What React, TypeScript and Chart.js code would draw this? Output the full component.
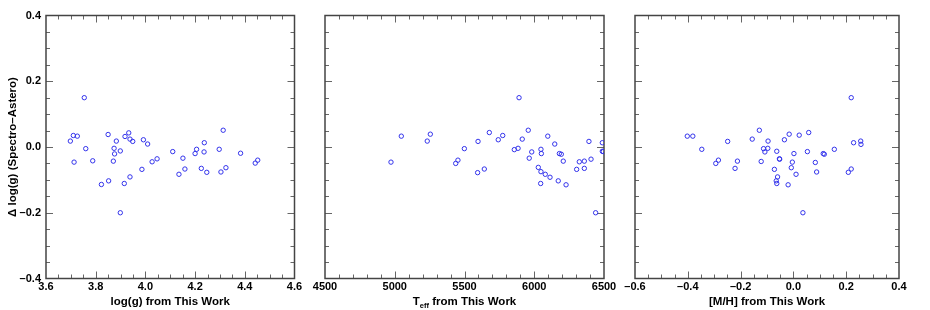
import React, { useEffect, useRef } from 'react';
import { Chart, registerables } from 'chart.js';
Chart.register(...registerables);

// ---------------- data ----------------
const loggX = [3.754, 3.710, 3.726, 3.698, 3.760, 3.713, 3.788, 3.823, 3.852, 3.850, 3.883, 3.874, 3.876, 3.871, 3.899, 3.899, 3.933, 3.918, 3.938, 3.949, 3.938, 3.915, 3.992, 4.009, 3.986, 4.027, 4.047, 4.110, 4.151, 4.135, 4.159, 4.206, 4.200, 4.237, 4.236, 4.225, 4.247, 4.313, 4.297, 4.304, 4.324, 4.383, 4.442, 4.452];
const loggDy = [0.15, 0.035, 0.033, 0.018, -0.005, -0.046, -0.042, -0.114, -0.103, 0.038, 0.018, -0.004, -0.021, -0.043, -0.012, -0.2, 0.043, 0.032, 0.024, 0.017, -0.091, -0.111, 0.022, 0.009, -0.068, -0.045, -0.036, -0.014, -0.034, -0.083, -0.067, -0.007, -0.020, 0.013, -0.015, -0.065, -0.077, 0.051, -0.007, -0.076, -0.063, -0.019, -0.049, -0.040];

const teffX = [4973, 5047, 5233, 5255, 5437, 5453, 5499, 5594, 5597, 5642, 5678, 5742, 5774, 5857, 5884, 5891, 5914, 5957, 5964, 5982, 6029, 6048, 6051, 6048, 6046, 6079, 6097, 6113, 6147, 6180, 6194, 6172, 6208, 6228, 6304, 6323, 6359, 6359, 6392, 6407, 6488, 6488, 6495, 6440];
const teffDy = [-0.046, 0.033, 0.018, 0.039, -0.050, -0.040, -0.005, -0.078, 0.017, -0.067, 0.044, 0.022, 0.035, -0.008, -0.004, 0.15, 0.024, 0.051, -0.034, -0.015, -0.062, -0.007, -0.020, -0.075, -0.111, -0.083, 0.033, -0.092, 0.009, -0.020, -0.022, -0.103, -0.043, -0.115, -0.068, -0.045, -0.043, -0.065, 0.017, -0.037, 0.013, -0.013, -0.014, -0.2];

const mhX = [-0.402, -0.381, -0.347, -0.294, -0.284, -0.249, -0.221, -0.212, -0.156, -0.129, -0.122, -0.113, -0.108, -0.097, -0.096, -0.072, -0.063, -0.060, -0.065, -0.063, -0.053, -0.052, -0.034, -0.016, -0.008, -0.004, 0.002, 0.010, -0.020, 0.022, 0.036, 0.053, 0.058, 0.083, 0.088, 0.113, 0.117, 0.155, 0.208, 0.219, 0.219, 0.228, 0.255, 0.256];
const mhDy = [0.033, 0.033, -0.007, -0.050, -0.040, 0.017, -0.065, -0.043, 0.024, 0.051, -0.044, -0.005, -0.015, -0.004, 0.018, -0.068, -0.013, -0.091, -0.103, -0.111, -0.036, -0.037, 0.022, 0.039, -0.063, -0.046, -0.020, -0.083, -0.115, 0.036, -0.2, -0.014, 0.044, -0.047, -0.076, -0.020, -0.022, -0.007, -0.077, -0.067, 0.15, 0.013, 0.018, 0.008];

const dyTicks = [-0.4, -0.2, 0.0, 0.2, 0.4];
const loggTicks = [3.6, 3.8, 4.0, 4.2, 4.4, 4.6];
const teffTicks = [4500, 5000, 5500, 6000, 6500];
const mhTicks = [-0.6, -0.4, -0.2, 0.0, 0.2, 0.4];

const yTitle = 'Δ log(g) (Spectro–Astero)';
const loggTitle = 'log(g) from This Work';
const mhTitle = '[M/H] from This Work';

// ---------------- layout / style ----------------
const W = 930;
const H = 310;
const TOP = 15.5;
const BOTTOM = 278.5;
const FONT = '"Liberation Sans", Arial, Helvetica, sans-serif';
const POINT_COLOR = 'rgb(50,50,235)';
const MAJOR_LEN = 7;
const MINOR_LEN = 4;

const fmt = (v: number, d: number) => {
  const r = Number(v.toFixed(d));
  const s = Math.abs(r).toFixed(d);
  return r < 0 ? '–' + s : s;
};

type Panel = {
  xs: number[];
  ys: number[];
  ticks: number[];
  decimals: number;
  minor: number;
  majorEvery: number;
  left: number;
  right: number;
  title: string | null;
  showY: boolean;
};

const panels: Panel[] = [
  { xs: loggX, ys: loggDy, ticks: loggTicks, decimals: 1, minor: 0.05, majorEvery: 4, left: 46, right: 294.5, title: loggTitle, showY: true },
  { xs: teffX, ys: teffDy, ticks: teffTicks, decimals: 0, minor: 100, majorEvery: 5, left: 325, right: 604, title: null, showY: false },
  { xs: mhX, ys: mhDy, ticks: mhTicks, decimals: 1, minor: 0.05, majorEvery: 4, left: 635, right: 899, title: mhTitle, showY: false },
];

function makeChart(canvas: HTMLCanvasElement, p: Panel) {
  const framePlugin = {
    id: 'frame',
    beforeDatasetsDraw(chart: any) {
      const { ctx, chartArea } = chart;
      const { left, right, top, bottom } = chartArea;
      const xs = chart.scales.x;
      const ys = chart.scales.y;
      ctx.save();
      ctx.strokeStyle = '#666';
      ctx.lineWidth = 1;
      ctx.beginPath();
      const xmin = p.ticks[0];
      const xmax = p.ticks[p.ticks.length - 1];
      const nx = Math.round((xmax - xmin) / p.minor);
      for (let i = 1; i < nx; i++) {
        const v = xmin + i * p.minor;
        const px = Math.round(xs.getPixelForValue(v)) + 0.5;
        const len = i % p.majorEvery === 0 ? MAJOR_LEN : MINOR_LEN;
        ctx.moveTo(px, bottom);
        ctx.lineTo(px, bottom - len);
        ctx.moveTo(px, top);
        ctx.lineTo(px, top + len);
      }
      const ymin = dyTicks[0];
      const ymax = dyTicks[dyTicks.length - 1];
      const ny = Math.round((ymax - ymin) / 0.05);
      for (let i = 1; i < ny; i++) {
        const v = ymin + i * 0.05;
        const py = Math.round(ys.getPixelForValue(v)) + 0.5;
        const len = i % 4 === 0 ? MAJOR_LEN : MINOR_LEN;
        ctx.moveTo(left, py);
        ctx.lineTo(left + len, py);
        ctx.moveTo(right, py);
        ctx.lineTo(right - len, py);
      }
      ctx.stroke();
      ctx.strokeStyle = '#444';
      ctx.lineWidth = 1.5;
      ctx.strokeRect(left, top, right - left, bottom - top);
      ctx.restore();
    },
    afterDraw(chart: any) {
      if (p.title !== null) return;
      const { ctx, chartArea } = chart;
      const cx = (chartArea.left + chartArea.right) / 2;
      const y = 302;
      const big = `bold 11.5px ${FONT}`;
      const small = `bold 7.5px ${FONT}`;
      ctx.save();
      ctx.font = big;
      const wT = ctx.measureText('T').width;
      const rest = ' from This Work';
      const wR = ctx.measureText(rest).width;
      ctx.font = small;
      const wS = ctx.measureText('eff').width;
      let x = cx - (wT + wS + wR) / 2;
      ctx.fillStyle = '#000';
      ctx.textAlign = 'left';
      ctx.textBaseline = 'middle';
      ctx.font = big;
      ctx.fillText('T', x, y);
      x += wT;
      ctx.font = small;
      ctx.fillText('eff', x, y + 3.5);
      x += wS;
      ctx.font = big;
      ctx.fillText(rest, x, y);
      ctx.restore();
    },
  };

  const tickFont = { family: FONT, size: 11, weight: 'bold' as const };
  const titleFont = { family: FONT, size: 11.5, weight: 'bold' as const };

  return new Chart(canvas, {
    type: 'scatter',
    data: {
      datasets: [
        {
          data: p.xs.map((x, i) => ({ x, y: p.ys[i] })),
          pointStyle: 'circle',
          pointRadius: 2.2,
          borderWidth: 1,
          borderColor: POINT_COLOR,
          backgroundColor: 'rgba(0,0,0,0)',
        },
      ],
    },
    options: {
      animation: false,
      responsive: false,
      events: [],
      layout: { padding: { left: p.showY ? 0 : p.left, right: W - p.right, top: TOP, bottom: 0 } },
      plugins: { legend: { display: false }, tooltip: { enabled: false } },
      scales: {
        x: {
          type: 'linear',
          position: 'bottom',
          min: p.ticks[0],
          max: p.ticks[p.ticks.length - 1],
          afterBuildTicks: (s: any) => {
            s.ticks = p.ticks.map((v) => ({ value: v }));
          },
          afterFit: (s: any) => {
            s.height = H - BOTTOM;
          },
          grid: { display: false, drawTicks: false },
          border: { display: false },
          ticks: {
            padding: 2,
            color: '#000',
            font: tickFont,
            autoSkip: false,
            maxRotation: 0,
            callback: (v: any) => fmt(Number(v), p.decimals),
          },
          title: {
            display: p.title !== null,
            text: p.title ?? '',
            color: '#000',
            font: titleFont,
            padding: { top: 0, bottom: 1 },
          },
        },
        y: {
          type: 'linear',
          display: p.showY,
          min: dyTicks[0],
          max: dyTicks[dyTicks.length - 1],
          afterBuildTicks: (s: any) => {
            s.ticks = dyTicks.map((v) => ({ value: v }));
          },
          afterFit: (s: any) => {
            if (p.showY) s.width = p.left;
          },
          grid: { display: false, drawTicks: false },
          border: { display: false },
          ticks: {
            padding: 5,
            color: '#000',
            font: tickFont,
            autoSkip: false,
            callback: (v: any) => fmt(Number(v), 1),
          },
          title: {
            display: true,
            text: yTitle,
            color: '#000',
            font: titleFont,
            padding: { top: 6, bottom: 0 },
          },
        },
      },
    },
    plugins: [framePlugin],
  } as any);
}

export default function App() {
  const r0 = useRef<HTMLCanvasElement>(null);
  const r1 = useRef<HTMLCanvasElement>(null);
  const r2 = useRef<HTMLCanvasElement>(null);

  useEffect(() => {
    const refs = [r0, r1, r2];
    const charts = refs.map((r, i) => makeChart(r.current as HTMLCanvasElement, panels[i]));
    return () => charts.forEach((c) => c.destroy());
  }, []);

  const cs: React.CSSProperties = { position: 'absolute', left: 0, top: 0, width: W, height: H };
  return (
    <div style={{ position: 'absolute', left: 0, top: 0, width: W, height: H, background: '#fff' }}>
      <canvas ref={r0} width={W} height={H} style={cs} />
      <canvas ref={r1} width={W} height={H} style={cs} />
      <canvas ref={r2} width={W} height={H} style={cs} />
    </div>
  );
}
